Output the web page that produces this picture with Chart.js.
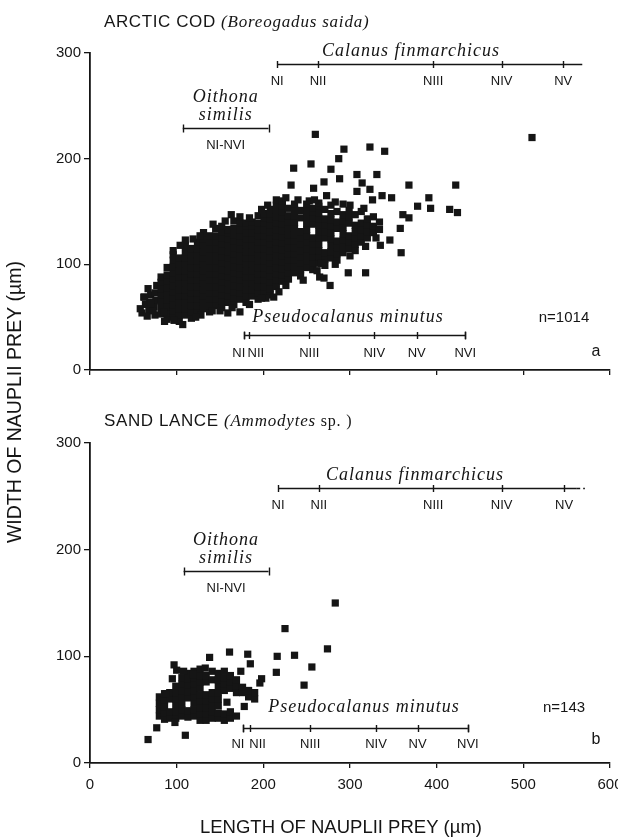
<!DOCTYPE html>
<html><head><meta charset="utf-8">
<script src="https://cdn.jsdelivr.net/npm/chart.js@4.4.1/dist/chart.umd.min.js"></script>
<style>
html,body{margin:0;padding:0;background:#fff;overflow:hidden;}
#wrap{position:relative;width:618px;height:840px;background:#fff;}
canvas{position:absolute;left:0;top:0;}
</style></head><body>
<div id="wrap">
<canvas id="c1" width="618" height="840"></canvas>
<canvas id="c2" width="618" height="840"></canvas>
</div>
<script>
// ---------------- DATA ----------------
const xTicks = [0, 100, 200, 300, 400, 500, 600];
const yTicks = [0, 100, 200, 300];
const xTitle = 'LENGTH OF NAUPLII PREY (µm)';
const yTitle = 'WIDTH OF NAUPLII PREY (µm)';

const codName = 'ARCTIC COD';
const codLatin = '(Boreogadus saida)';
const codCount = 'n=1014';
const lanceName = 'SAND LANCE';
const lanceLatin = '(Ammodytes';
const lanceLatinTail = ' sp. )';
const lanceCount = 'n=143';

const calanusName = 'Calanus finmarchicus';
const calanusStages = ['NI', 'NII', 'NIII', 'NIV', 'NV'];
const codCalanusLength = [216, 263, 396, 475, 546];
const codCalanusWidth = 290;
const codCalanusEnd = 568;
const lanceCalanusLength = [217, 264, 396, 475, 547];
const lanceCalanusWidth = 258;
const lanceCalanusEnd = 571;
const lanceCalanusSolidEnd = 561;

const oithonaName = ['Oithona', 'similis'];
const oithonaStages = 'NI-NVI';
const codOithonaLength = [107, 206];
const codOithonaWidth = 229;
const lanceOithonaLength = [108, 206];
const lanceOithonaWidth = 180;

const pseudoName = 'Pseudocalanus minutus';
const pseudoStages = ['NI', 'NII', 'NIII', 'NIV', 'NV', 'NVI'];
const codPseudoLength = [178, 183, 253, 328, 377, 433];
const codPseudoWidth = 33;
const lancePseudoLength = [177, 185, 254, 330, 378, 436];
const lancePseudoWidth = 33;

// Arctic cod prey: [length, width] in µm
const codPoints = [
[60,54],[62,69],[64,62],[58,58],[68,57],[69,64],[67,77],[70,71],[66,51],[75,52],[74,60],[76,66],[75,73],[77,80],[73,56],
[82,53],[82,59],[82,65],[82,71],[82,77],[82,83],[82,88],
[89,48],[89,54],[89,60],[89,66],[89,72],[89,78],[89,84],[89,90],[89,97],
[96,50],[96,56],[96,62],[96,68],[96,74],[96,80],[96,86],[96,92],[96,98],[96,104],[96,109],[96,113],
[103,46],[103,52],[103,58],[103,64],[103,70],[103,76],[103,82],[103,88],[103,94],[103,100],[103,106],
[110,52],[110,58],[110,64],[110,70],[110,76],[110,82],[110,88],[110,94],[110,100],[110,106],[110,112],[110,118],[110,123],
[117,49],[117,55],[117,61],[117,67],[117,73],[117,79],[117,85],[117,91],[117,97],[117,103],[117,109],[117,115],
[124,55],[124,61],[124,67],[124,73],[124,79],[124,85],[124,91],[124,97],[124,103],[124,109],[124,115],[124,121],
[131,58],[131,64],[131,70],[131,76],[131,82],[131,88],[131,94],[131,100],[131,106],[131,112],[131,118],[131,124],[131,130],
[138,55],[138,61],[138,67],[138,73],[138,79],[138,85],[138,91],[138,97],[138,103],[138,109],[138,115],[138,121],[138,127],
[145,61],[145,67],[145,73],[145,79],[145,85],[145,91],[145,97],[145,103],[145,109],[145,115],[145,121],[145,127],[145,134],
[152,59],[152,65],[152,71],[152,77],[152,83],[152,89],[152,95],[152,101],[152,107],[152,113],[152,119],[152,125],[152,131],[152,136],
[159,64],[159,70],[159,76],[159,82],[159,88],[159,94],[159,100],[159,106],[159,112],[159,118],[159,124],[159,130],[159,133],
[166,62],[166,68],[166,74],[166,80],[166,86],[166,92],[166,98],[166,104],[166,110],[166,116],[166,122],[166,128],[166,134],[166,141],
[173,67],[173,73],[173,79],[173,85],[173,91],[173,97],[173,103],[173,109],[173,115],[173,121],[173,127],[173,133],[173,139],[173,145],
[180,64],[180,70],[180,76],[180,82],[180,88],[180,94],[180,100],[180,106],[180,112],[180,118],[180,124],[180,130],[180,136],[180,139],
[187,70],[187,76],[187,82],[187,88],[187,94],[187,100],[187,106],[187,112],[187,118],[187,124],[187,130],[187,136],[187,140],
[194,67],[194,73],[194,79],[194,85],[194,91],[194,97],[194,103],[194,109],[194,115],[194,121],[194,127],[194,133],[194,139],[194,146],
[201,73],[201,79],[201,85],[201,91],[201,97],[201,103],[201,109],[201,115],[201,121],[201,127],[201,133],[201,139],[201,144],[201,148],
[208,71],[208,77],[208,83],[208,89],[208,95],[208,101],[208,107],[208,113],[208,119],[208,125],[208,131],[208,137],[208,143],[208,148],[208,152],
[215,79],[215,85],[215,91],[215,97],[215,103],[215,109],[215,115],[215,121],[215,127],[215,133],[215,139],[215,145],[215,151],[215,156],[215,161],
[222,84],[222,90],[222,96],[222,102],[222,108],[222,114],[222,120],[222,126],[222,132],[222,138],[222,144],[222,150],[222,155],[222,160],
[229,86],[229,92],[229,98],[229,104],[229,110],[229,116],[229,122],[229,128],[229,134],[229,140],[229,146],[229,153],
[236,92],[236,98],[236,104],[236,110],[236,116],[236,122],[236,128],[236,134],[236,140],[236,146],[236,152],[236,157],
[243,89],[243,95],[243,101],[243,107],[243,113],[243,119],[243,125],[243,131],[243,144],[243,151],
[250,97],[250,103],[250,109],[250,115],[250,121],[250,127],[250,133],[250,139],[250,145],[250,151],[250,157],
[257,95],[257,101],[257,107],[257,113],[257,119],[257,125],[257,138],[257,144],[257,150],[257,153],
[264,101],[264,107],[264,113],[264,119],[264,125],[264,131],[264,137],[264,143],[264,149],[264,155],[264,158],
[271,99],[271,105],[271,111],[271,125],[271,131],[271,137],[271,143],[271,152],
[278,106],[278,112],[278,118],[278,124],[278,130],[278,136],[278,142],[278,148],[278,156],
[285,104],[285,110],[285,116],[285,122],[285,134],[285,140],[285,150],
[292,111],[292,117],[292,123],[292,129],[292,135],[292,141],[292,147],[292,157],
[299,115],[299,121],[299,127],[299,139],[299,145],[299,151],
[306,113],[306,119],[306,125],[306,131],[306,137],[306,147],
[313,121],[313,127],[313,133],[313,139],[313,150],
[320,125],[320,131],[320,137],[320,143],
[327,130],[327,136],[327,145],
[334,133],[334,140],
[104,118],[119,124],[127,127],[142,138],[156,141],[163,147],[184,144],[198,152],[205,156],[226,163],[240,161],[253,160],[283,159],[300,156],[316,153],
[86,46],[107,43],[128,52],[150,56],[164,59],[184,62],[203,68],[218,74],[226,80],[246,85],[262,94],[283,100],[300,108],[318,117],[330,125],
[510,220],[260,223],[293,209],[323,211],[340,207],[235,191],[255,195],[287,200],[278,190],[308,185],
[331,185],[288,181],[270,178],[232,175],[258,172],[314,177],[323,171],[308,169],[368,175],[422,175],
[391,163],[378,155],[393,153],[415,152],[424,149],[348,163],[337,165],[326,161],[361,147],[368,144],
[358,134],[346,123],[359,111],[335,118],[298,92],[318,92],[265,88],[267,101],[273,165],[259,161],
[270,87],[277,80],[63,69],[70,63],[85,55],[97,47],[122,50],[141,56],[159,54],[173,55],[198,68],[212,69]
];

// Sand lance prey: [length, width] in µm
const lancePoints = [
[80,44],[80,50],[80,56],[80,62],
[86,41],[86,47],[86,53],[86,59],[86,65],
[92,42],[92,48],[92,60],[92,66],
[99,42],[99,48],[99,54],[99,60],[99,66],[99,72],
[106,44],[106,50],[106,56],[106,62],[106,68],[106,74],[106,80],
[113,43],[113,49],[113,61],[113,67],[113,73],[113,79],[113,84],
[120,44],[120,50],[120,56],[120,62],[120,68],[120,74],[120,80],[120,86],
[127,40],[127,46],[127,52],[127,58],[127,64],[127,70],[127,76],[127,82],[127,88],
[134,40],[134,46],[134,52],[134,58],[134,64],[134,76],[134,82],
[141,42],[141,48],[141,54],[141,60],[141,66],[141,78],[141,86],
[148,42],[148,47],[148,54],[148,60],[148,66],[148,72],[148,78],[148,84],
[155,40],[155,46],[155,68],[155,74],[155,80],[155,86],
[162,42],[162,48],[162,70],[162,76],[162,82],
[169,44],[169,66],[169,72],[169,78],
[176,66],[176,71],
[183,62],[183,68],
[190,60],[190,66],
[67,22],[77,33],[110,26],[98,38],[97,92],[100,87],[138,99],[161,104],[182,102],[185,93],
[216,100],[236,101],[215,85],[256,90],[247,73],[274,107],[225,126],[283,150],[178,53],[198,79],
[196,75],[108,86],[119,83],[133,89],[95,79],[88,65],[158,57],[174,86]
];

// ---------------- DRAWING ----------------
const INK = '#151515';
const SANS = "'Liberation Sans', Arial, Helvetica, sans-serif";
const SERIF = "'Liberation Serif', 'Times New Roman', serif";

function tickBar(ctx, X, py, vals, startVal, endVal, solidEnd, endTicks) {
  const x0 = X(startVal), x1 = X(solidEnd != null ? solidEnd : endVal);
  ctx.beginPath(); ctx.moveTo(x0, py); ctx.lineTo(x1, py); ctx.stroke();
  if (solidEnd != null) {
    ctx.save(); ctx.setLineDash([4, 3]);
    ctx.beginPath(); ctx.moveTo(x1, py); ctx.lineTo(X(endVal), py); ctx.stroke();
    ctx.restore();
  }
  vals.forEach(v => {
    const px = Math.round(X(v)) + 0.5;
    ctx.beginPath(); ctx.moveTo(px, py - 3.5); ctx.lineTo(px, py + 3.5); ctx.stroke();
  });
  if (endTicks) {
    [startVal, endVal].forEach(v => {
      const px = Math.round(X(v)) + 0.5;
      ctx.beginPath(); ctx.moveTo(px, py - 4); ctx.lineTo(px, py + 4); ctx.stroke();
    });
  }
}

function species(ctx, text, x, y) {
  ctx.save();
  ctx.font = `italic 18px ${SERIF}`;
  ctx.letterSpacing = '1px';
  ctx.textAlign = 'center'; ctx.textBaseline = 'middle';
  ctx.fillText(text, x, y);
  ctx.restore();
}

const decor = {
  id: 'decor',
  afterDatasetsDraw(chart, args, o) {
    const ctx = chart.ctx, xs = chart.scales.x, ys = chart.scales.y;
    const X = v => xs.getPixelForValue(v), Y = v => ys.getPixelForValue(v);
    ctx.save();
    ctx.fillStyle = INK; ctx.strokeStyle = INK; ctx.lineWidth = 1.4;

    // panel title
    ctx.textAlign = 'left'; ctx.textBaseline = 'alphabetic';
    ctx.font = `17px ${SANS}`; ctx.letterSpacing = '0.6px';
    ctx.fillText(o.name, 104, o.titleBase);
    let tx = 104 + ctx.measureText(o.name + ' ').width;
    ctx.font = `italic 17px ${SERIF}`; ctx.letterSpacing = '0.8px';
    ctx.fillText(o.latin, tx, o.titleBase);
    if (o.latinTail) {
      tx += ctx.measureText(o.latin).width;
      ctx.font = `16px ${SERIF}`;
      ctx.fillText(o.latinTail, tx, o.titleBase);
    }
    ctx.letterSpacing = '0px';

    // Calanus finmarchicus
    let py = Math.round(Y(o.cal.width)) + 0.5;
    tickBar(ctx, X, py, o.cal.len, o.cal.len[0], o.cal.end, o.cal.solidEnd, false);
    ctx.textAlign = 'center'; ctx.textBaseline = 'middle';
    ctx.font = `13px ${SANS}`;
    o.cal.len.forEach((v, i) => ctx.fillText(calanusStages[i], X(v), py + 17));
    species(ctx, calanusName, o.cal.textX, py - 13);

    // Oithona similis
    py = Math.round(Y(o.oit.width)) + 0.5;
    tickBar(ctx, X, py, [], o.oit.len[0], o.oit.len[1], null, true);
    const ocx = (X(o.oit.len[0]) + X(o.oit.len[1])) / 2;
    species(ctx, oithonaName[0], ocx, py - 31);
    species(ctx, oithonaName[1], ocx, py - 13);
    ctx.font = `13px ${SANS}`;
    ctx.fillText(oithonaStages, ocx, py + 17);

    // Pseudocalanus minutus
    py = Math.round(Y(o.ps.width)) + 0.5;
    const pl = o.ps.len;
    tickBar(ctx, X, py, pl, pl[0], pl[pl.length - 1], null, true);
    ctx.font = `13px ${SANS}`;
    pl.forEach((v, i) => {
      if (i === 0) { ctx.textAlign = 'right'; ctx.fillText(pseudoStages[i], X(v) + 1, py + o.ps.labelDy); }
      else if (i === 1) { ctx.textAlign = 'left'; ctx.fillText(pseudoStages[i], X(v) - 1, py + o.ps.labelDy); }
      else { ctx.textAlign = 'center'; ctx.fillText(pseudoStages[i], X(v), py + o.ps.labelDy); }
    });
    ctx.textAlign = 'center';
    species(ctx, pseudoName, o.ps.textX, py + o.ps.textDy);

    // n= and panel letter
    ctx.font = `15px ${SANS}`;
    ctx.fillText(o.count, 564, o.countY);
    ctx.font = `16px ${SANS}`;
    ctx.fillText(o.letter, 596, o.letterY);

    if (o.axisTitles) {
      ctx.font = `18.5px ${SANS}`;
      ctx.fillText(xTitle, 341, 828);
      ctx.save();
      ctx.translate(16, 402); ctx.rotate(-Math.PI / 2);
      ctx.font = `19.5px ${SANS}`;
      ctx.fillText(yTitle, 0, 0);
      ctx.restore();
    }
    ctx.restore();
  }
};

function makePanel(id, points, showXLabels, pad, xHeight, deco) {
  return new Chart(document.getElementById(id), {
    type: 'scatter',
    data: {
      datasets: [{
        data: points.map(p => ({ x: p[0], y: p[1] })),
        pointStyle: 'rect',
        pointRadius: 5.1,
        pointHoverRadius: 5.1,
        borderWidth: 0,
        backgroundColor: INK
      }]
    },
    options: {
      responsive: false,
      animation: false,
      events: [],
      layout: { padding: pad },
      plugins: { legend: { display: false }, tooltip: { enabled: false }, decor: deco },
      scales: {
        x: {
          type: 'linear', min: xTicks[0], max: xTicks[xTicks.length - 1],
          afterBuildTicks: s => { s.ticks = xTicks.map(v => ({ value: v })); },
          ticks: { display: showXLabels, color: INK, font: { family: SANS, size: 15 }, padding: 8, maxRotation: 0, autoSkip: false },
          grid: { display: true, drawOnChartArea: false, drawTicks: true, tickLength: 5, color: INK, lineWidth: 1.3 },
          border: { display: true, color: INK, width: 1.8 },
          afterFit: s => { s.height = xHeight; s.paddingLeft = 0; s.paddingRight = 0; }
        },
        y: {
          type: 'linear', min: yTicks[0], max: yTicks[yTicks.length - 1],
          afterBuildTicks: s => { s.ticks = yTicks.map(v => ({ value: v })); },
          ticks: { color: INK, font: { family: SANS, size: 15 }, padding: 3 },
          grid: { display: true, drawOnChartArea: false, drawTicks: true, tickLength: 6, color: INK, lineWidth: 1.3 },
          border: { display: true, color: INK, width: 1.8 },
          afterFit: s => { s.width = 90; s.paddingTop = 0; s.paddingBottom = 0; }
        }
      }
    },
    plugins: [decor]
  });
}

makePanel('c1', codPoints, false, { top: 53, left: 0, right: 8, bottom: 462 }, 8, {
  name: codName, latin: codLatin, titleBase: 27,
  cal: { len: codCalanusLength, width: codCalanusWidth, end: codCalanusEnd, solidEnd: null, textX: 411 },
  oit: { len: codOithonaLength, width: codOithonaWidth },
  ps: { len: codPseudoLength, width: codPseudoWidth, textX: 348, textDy: -18, labelDy: 18 },
  count: codCount, countY: 318, letter: 'a', letterY: 352, axisTitles: true
});

makePanel('c2', lancePoints, true, { top: 443, left: 0, right: 8, bottom: 0 }, 77, {
  name: lanceName, latin: lanceLatin, latinTail: lanceLatinTail, titleBase: 426,
  cal: { len: lanceCalanusLength, width: lanceCalanusWidth, end: lanceCalanusEnd, solidEnd: lanceCalanusSolidEnd, textX: 415 },
  oit: { len: lanceOithonaLength, width: lanceOithonaWidth },
  ps: { len: lancePseudoLength, width: lancePseudoWidth, textX: 364, textDy: -21, labelDy: 16 },
  count: lanceCount, countY: 708, letter: 'b', letterY: 740, axisTitles: false
});
</script>
</body></html>
